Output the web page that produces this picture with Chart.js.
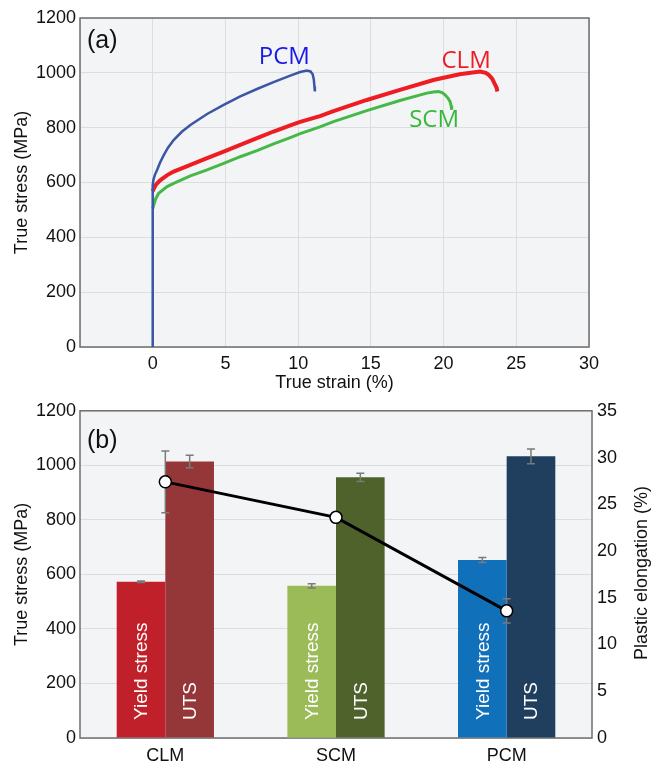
<!DOCTYPE html>
<html>
<head>
<meta charset="utf-8">
<script src="https://cdn.jsdelivr.net/npm/chart.js@4.4.1/dist/chart.umd.min.js"></script>
<style>
  body { margin: 0; background: #fff; }
  #top { position: absolute; left: 0; top: 0; }
  #bottom { position: absolute; left: 0; top: 395px; }
</style>
</head>
<body>
<canvas id="top" width="654" height="395"></canvas>
<canvas id="bottom" width="654" height="370"></canvas>
<script>
// (a) true stress - true strain curves
var pcmStrain = [0, 0, 0.05, 0.15, 0.3, 0.5, 0.76, 1.05, 1.44, 2.0, 2.59, 3.74, 4.88, 6.02, 7.17, 8.31, 9.46, 10.14, 10.6, 10.85, 11.0, 11.08, 11.12, 11.15];
var pcmStress = [0, 591, 610, 628, 646, 672, 700, 727, 755, 785, 810, 850, 883, 914, 941, 966, 990, 1003, 1008, 1005, 995, 975, 950, 932];
var clmStrain = [0, 0.07, 0.25, 0.53, 1.0, 1.44, 2.59, 3.74, 4.88, 6.02, 7.17, 8.31, 9.46, 10.14, 11.5, 12.43, 14.72, 17.0, 19.3, 21.1, 22.5, 22.9, 23.1, 23.35, 23.5, 23.65, 23.7];
var clmStress = [568, 577, 594, 609, 627, 640, 664, 689, 713, 737, 762, 786, 808, 821, 842, 860, 901, 938, 974, 995, 1005, 1000, 993, 978, 962, 945, 932];
var scmStrain = [0, 0.07, 0.2, 0.41, 0.99, 1.44, 2.59, 3.74, 4.88, 6.02, 7.17, 8.31, 9.46, 10.14, 11.5, 12.43, 14.72, 17.0, 18.85, 19.3, 19.64, 19.9, 20.1, 20.3, 20.45, 20.52, 20.56];
var scmStress = [505, 518, 540, 561, 585, 597, 624, 646, 670, 694, 716, 741, 764, 778, 803, 822, 862, 899, 926, 930, 932, 928, 920, 908, 895, 880, 865];

// (b) bar + line chart
var materials = ['CLM', 'SCM', 'PCM'];
var yieldStress = [573, 558, 653];
var yieldErr = [3, 8, 9];
var uts = [1014, 956, 1033];
var utsErr = [23, 15, 27];
var elongation = [27.4, 23.6, 13.6];
var elongErr = [3.3, 0, 1.3];

var stressTicks = [0, 200, 400, 600, 800, 1000, 1200];
var elongTicks = [0, 5, 10, 15, 20, 25, 30, 35];

var tickFont = { family: 'Liberation Sans, Arial, sans-serif', size: 18 };
var titleFont = { family: 'Liberation Sans, Arial, sans-serif', size: 18 };

function pairs(xs, ys) {
    return xs.map(function (x, i) { return { x: x, y: ys[i] }; });
}
function plain(v) { return String(v); }

// plot background + frame
var framePlugin = {
    id: 'frame',
    beforeDraw: function (chart) {
        var a = chart.chartArea, ctx = chart.ctx;
        ctx.save();
        ctx.fillStyle = '#f3f4f6';
        ctx.fillRect(a.left, a.top, a.right - a.left, a.bottom - a.top);
        ctx.restore();
    },
    beforeDatasetsDraw: function (chart) {
        var a = chart.chartArea, ctx = chart.ctx;
        ctx.save();
        ctx.strokeStyle = '#6e6e6e';
        ctx.lineWidth = 1.5;
        ctx.strokeRect(a.left, a.top, a.right - a.left, a.bottom - a.top);
        ctx.restore();
    }
};

// free text labels, in data coordinates or pixels
var notesPlugin = {
    id: 'notes',
    afterDatasetsDraw: function (chart, args, opts) {
        var ctx = chart.ctx;
        (opts.items || []).forEach(function (n) {
            ctx.save();
            ctx.font = n.font;
            ctx.fillStyle = n.color;
            ctx.textAlign = n.align || 'center';
            ctx.textBaseline = 'middle';
            var x = n.px != null ? n.px : chart.scales[n.xAxis || 'x'].getPixelForValue(n.x);
            var y = n.py != null ? n.py : chart.scales[n.yAxis || 'y'].getPixelForValue(n.y);
            ctx.translate(x, y);
            if (n.rotate) ctx.rotate(n.rotate);
            ctx.fillText(n.text, 0, 0);
            ctx.restore();
        });
    }
};

new Chart(document.getElementById('top').getContext('2d'), {
    type: 'scatter',
    data: {
        datasets: [{
            label: 'PCM',
            data: pairs(pcmStrain, pcmStress),
            showLine: true,
            borderColor: '#3b56a6',
            borderWidth: 2.5,
            pointRadius: 0
        }, {
            label: 'CLM',
            data: pairs(clmStrain, clmStress),
            showLine: true,
            borderColor: '#ee1d23',
            borderWidth: 4,
            pointRadius: 0
        }, {
            label: 'SCM',
            data: pairs(scmStrain, scmStress),
            showLine: true,
            borderColor: '#46b847',
            borderWidth: 3,
            pointRadius: 0
        }]
    },
    options: {
        responsive: false,
        animation: false,
        layout: { padding: { top: 18, right: 65, left: 0, bottom: 0 } },
        plugins: {
            legend: { display: false },
            tooltip: { enabled: false },
            notes: {
                items: [
                    { text: '(a)', px: 87, py: 41, align: 'left', font: '25px "Liberation Sans", Arial', color: '#111' },
                    { text: 'PCM', x: 9.05, y: 1058, font: '24px "Open Sans", sans-serif', color: '#1a1ae6' },
                    { text: 'CLM', x: 21.55, y: 1044, font: '24px "Open Sans", sans-serif', color: '#ee1d23' },
                    { text: 'SCM', x: 19.35, y: 826, font: '24px "Open Sans", sans-serif', color: '#38b83a' }
                ]
            }
        },
        scales: {
            x: {
                type: 'linear',
                min: -5,
                max: 30,
                afterFit: function (s) { s.height = 48; },
                border: { display: false },
                grid: { color: '#dcdde0', drawTicks: false },
                ticks: {
                    stepSize: 5,
                    padding: 6,
                    color: '#111',
                    font: tickFont,
                    callback: function (v) { return v < 0 ? '' : String(v); }
                },
                title: { display: true, text: 'True strain (%)', color: '#111', font: titleFont, padding: { top: 0, bottom: 1 } }
            },
            y: {
                min: 0,
                max: 1200,
                afterFit: function (s) { s.width = 80; },
                afterBuildTicks: function (s) { s.ticks = stressTicks.map(function (v) { return { value: v }; }); },
                border: { display: false },
                grid: { color: '#dcdde0', drawTicks: false },
                ticks: { padding: 4, color: '#111', font: tickFont, callback: plain },
                title: { display: true, text: 'True stress (MPa)', color: '#111', font: titleFont, padding: { top: 11, bottom: 0 } }
            }
        }
    },
    plugins: [framePlugin, notesPlugin]
});

// in-bar captions and error bars
var barExtras = {
    id: 'barExtras',
    afterDatasetDraw: function (chart, args) {
        var ctx = chart.ctx, meta = args.meta, ds = chart.data.datasets[args.index];
        if (meta.type !== 'bar') return;
        meta.data.forEach(function (bar) {
            ctx.save();
            ctx.translate(bar.x, chart.chartArea.bottom - 18);
            ctx.rotate(-Math.PI / 2);
            ctx.font = '19px "Liberation Sans", Arial';
            ctx.fillStyle = '#ffffff';
            ctx.textAlign = 'left';
            ctx.textBaseline = 'middle';
            ctx.fillText(ds.caption, 0, 1);
            ctx.restore();
        });
    },
    beforeDatasetDraw: function (chart, args) {
        // error bars go under the line and its points
        var meta = args.meta, ds = chart.data.datasets[args.index];
        if (meta.type !== 'line') return;
        drawErrors(chart, chart.getDatasetMeta(1), chart.data.datasets[1].errors);
        drawErrors(chart, chart.getDatasetMeta(2), chart.data.datasets[2].errors);
        drawErrors(chart, meta, ds.errors);
    }
};

function drawErrors(chart, meta, errs) {
    var ctx = chart.ctx, ds = chart.data.datasets[meta.index];
    var yScale = chart.scales[meta.yAxisID];
    ctx.save();
    ctx.strokeStyle = '#7a7a7a';
    ctx.lineWidth = 1.5;
    meta.data.forEach(function (el, i) {
        var e = errs[i];
        if (!e) return;
        var v = ds.data[i];
        var y1 = yScale.getPixelForValue(v + e), y2 = yScale.getPixelForValue(v - e);
        ctx.beginPath();
        ctx.moveTo(el.x, y1); ctx.lineTo(el.x, y2);
        ctx.moveTo(el.x - 4, y1); ctx.lineTo(el.x + 4, y1);
        ctx.moveTo(el.x - 4, y2); ctx.lineTo(el.x + 4, y2);
        ctx.stroke();
    });
    ctx.restore();
}

new Chart(document.getElementById('bottom').getContext('2d'), {
    data: {
        labels: materials,
        datasets: [{
            type: 'line',
            label: 'Plastic elongation',
            data: elongation,
            errors: elongErr,
            yAxisID: 'y1',
            order: 0,
            borderColor: '#000',
            borderWidth: 3,
            pointRadius: 6,
            pointBackgroundColor: '#fff',
            pointBorderColor: '#000',
            pointBorderWidth: 1.5
        }, {
            type: 'bar',
            label: 'Yield stress',
            caption: 'Yield stress',
            data: yieldStress,
            errors: yieldErr,
            yAxisID: 'y',
            order: 1,
            backgroundColor: ['#c0202a', '#9bbb59', '#1170ba'],
            categoryPercentage: 0.57,
            barPercentage: 1.0
        }, {
            type: 'bar',
            label: 'UTS',
            caption: 'UTS',
            data: uts,
            errors: utsErr,
            yAxisID: 'y',
            order: 1,
            backgroundColor: ['#953638', '#4f622c', '#203f5e'],
            categoryPercentage: 0.57,
            barPercentage: 1.0
        }]
    },
    options: {
        responsive: false,
        animation: false,
        layout: { padding: { top: 14, right: 0, left: 0, bottom: 0 } },
        plugins: {
            legend: { display: false },
            tooltip: { enabled: false },
            notes: {
                items: [
                    { text: '(b)', px: 87, py: 46, align: 'left', font: '25px "Liberation Sans", Arial', color: '#111' },
                    { text: 'Plastic elongation (%)', px: 642, py: 178, rotate: -Math.PI / 2, font: '18px "Liberation Sans", Arial', color: '#111' }
                ]
            }
        },
        scales: {
            x: {
                afterFit: function (s) { s.height = 27; },
                border: { display: false },
                grid: { display: false, drawTicks: false },
                ticks: { padding: 7, color: '#111', font: { family: 'Liberation Sans, Arial, sans-serif', size: 18 } }
            },
            y: {
                position: 'left',
                min: 0,
                max: 1200,
                afterFit: function (s) { s.width = 80; },
                afterBuildTicks: function (s) { s.ticks = stressTicks.map(function (v) { return { value: v }; }); },
                border: { display: false },
                grid: { color: '#dcdde0', drawTicks: false },
                ticks: { padding: 4, color: '#111', font: tickFont, callback: plain },
                title: { display: true, text: 'True stress (MPa)', color: '#111', font: titleFont, padding: { top: 11, bottom: 0 } }
            },
            y1: {
                position: 'right',
                min: 0,
                max: 35,
                afterFit: function (s) { s.width = 62; },
                afterBuildTicks: function (s) { s.ticks = elongTicks.map(function (v) { return { value: v }; }); },
                border: { display: false },
                grid: { display: false, drawTicks: false },
                ticks: { padding: 5, color: '#111', font: tickFont, callback: plain }
            }
        }
    },
    plugins: [framePlugin, notesPlugin, barExtras]
});
</script>
</body>
</html>
